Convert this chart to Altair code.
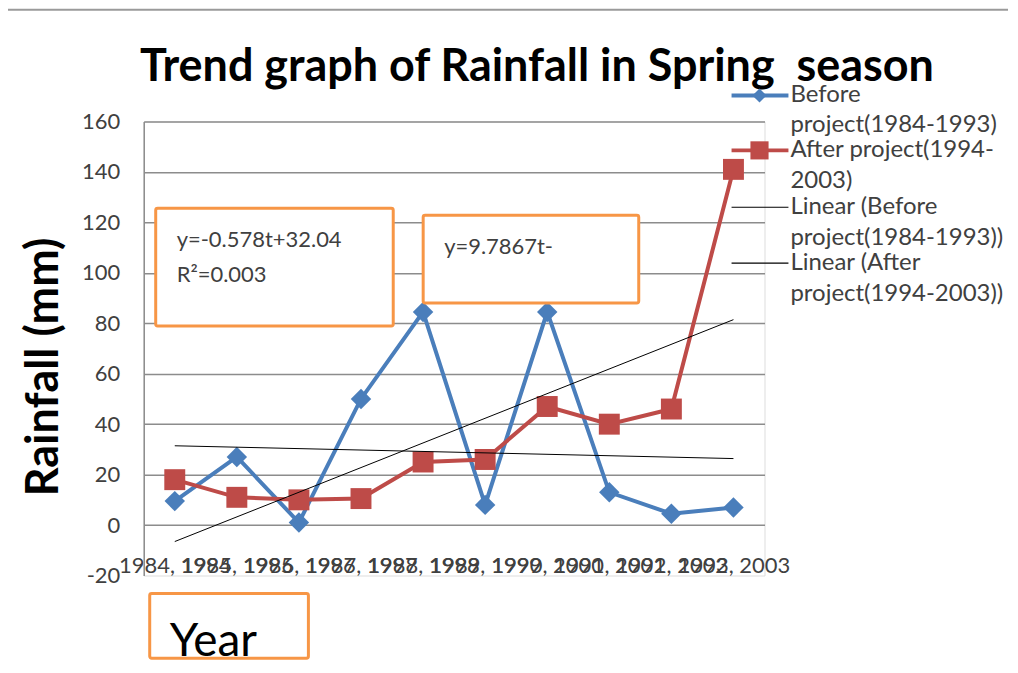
import altair as alt
import pandas as pd

# ---- data ----
years_before = [1984, 1985, 1986, 1987, 1988, 1989, 1990, 1991, 1992, 1993]
years_after = [1994, 1995, 1996, 1997, 1998, 1999, 2000, 2001, 2002, 2003]
period_index = [1, 2, 3, 4, 5, 6, 7, 8, 9, 10]
rain_before = [9.5, 27, 1, 50, 84.5, 8, 84.5, 13, 4.5, 7]
rain_after = [18, 11, 10, 10.5, 25, 26, 47, 40, 46, 141]
series_names = ["Before project(1984-1993)", "After project(1994-2003)"]
y_ticks = [-20, 0, 20, 40, 60, 80, 100, 120, 140, 160]

x_labels = [f"{a}, {b}" for a, b in zip(years_before, years_after)]

df = pd.DataFrame({
    "t": period_index * 2,
    "series": [series_names[0]] * 10 + [series_names[1]] * 10,
    "rainfall": rain_before + rain_after,
})

BLUE = "#4A7EBB"
RED = "#BE4B48"
ORANGE = "#F79646"
GRID = "#8C8C8C"
TXT = "#404040"
FONT = "Lato"

label_js = "[" + ",".join(f"'{s}'" for s in x_labels) + "]"

x_enc = alt.X(
    "t:Q",
    scale=alt.Scale(domain=[0.5, 10.5], nice=False, zero=False),
    axis=alt.Axis(
        values=period_index, title=None, grid=False, domain=False, ticks=False,
        tickSize=0, labelExpr=f"{label_js}[datum.value - 1]", labelOverlap=False,
        labelFontSize=22, labelColor=TXT, labelFont=FONT, labelBaseline="alphabetic",
        labelPadding=-3, labelFlush=False,
    ),
)
y_enc = alt.Y(
    "rainfall:Q",
    scale=alt.Scale(domain=[-20, 160], nice=False, zero=False),
    axis=alt.Axis(
        values=y_ticks, title=None, grid=True, gridColor=GRID, gridWidth=1.5,
        gridOpacity={"condition": {"test": "datum.value === -20", "value": 0}, "value": 1},
        domain=True, domainColor=GRID, domainWidth=1.5, ticks=False, tickSize=0,
        labelFontSize=22, labelColor=TXT, labelFont=FONT, labelPadding=24,
        labelBaseline="middle", labelExpr="datum.value + ''",
    ),
)

base = alt.Chart(df).encode(x=x_enc, y=y_enc)

blue_line = base.transform_filter(alt.datum.series == series_names[0]).mark_line(
    color=BLUE, strokeWidth=4)
blue_pts = base.transform_filter(alt.datum.series == series_names[0]).mark_point(
    shape="diamond", filled=True, opacity=1, size=420, color=BLUE)
red_line = base.transform_filter(alt.datum.series == series_names[1]).mark_line(
    color=RED, strokeWidth=4)
red_pts = base.transform_filter(alt.datum.series == series_names[1]).mark_point(
    shape="square", filled=True, opacity=1, size=440, color=RED)

# linear trend lines (least squares of rainfall on period index)
trends = base.transform_regression(
    "t", "rainfall", groupby=["series"], extent=[1, 10]
).mark_line(color="black", strokeWidth=1).encode(detail="series:N")

one = alt.Chart(pd.DataFrame({"k": [0]}))


def text(s, x, y, size, weight="normal", color=TXT, angle=None, align="left", baseline="middle"):
    kw = dict(fontSize=size, fontWeight=weight, color=color, font=FONT, align=align, baseline=baseline)
    if angle is not None:
        kw["angle"] = angle
    return one.mark_text(**kw).encode(x=alt.value(x), y=alt.value(y), text=alt.value(s))


def box(x1, x2, y1, y2):
    return one.mark_rect(fill="white", stroke=ORANGE, strokeWidth=3, cornerRadius=2).encode(
        x=alt.value(x1), x2=alt.value(x2), y=alt.value(y1), y2=alt.value(y2))


def hline(x1, x2, y, color, w):
    return one.mark_rule(color=color, strokeWidth=w).encode(
        x=alt.value(x1), x2=alt.value(x2), y=alt.value(y))


LEG = 24

layers = [
    blue_line, blue_pts, red_line, red_pts, trends,
    # page frame
    one.mark_rule(color="#9A9A9A", strokeWidth=2).encode(
        x=alt.value(-136), x2=alt.value(866), y=alt.value(-112)),
    one.mark_rule(color="#9A9A9A", strokeWidth=2).encode(
        x=alt.value(-137), y=alt.value(-112), y2=alt.value(560)),
    # title and axis titles
    text("Trend graph of Rainfall in Spring\u00a0 season", 394, -41, 45, "bold", "black",
         align="center", baseline="alphabetic"),
    text("Rainfall (mm)", -100, 246, 45, "bold", "black", angle=270, align="center"),
    box(6, 165, 473, 538),
    text("Year", 26, 536, 46, "normal", "black", baseline="alphabetic"),
    # equation boxes
    box(12, 250, 87, 205),
    text("y=-0.578t+32.04", 33, 119, 22),
    text("R²=0.003", 33, 154, 22),
    box(280, 496, 94, 182),
    text("y=9.7867t-", 301, 126, 22),
    # legend
    hline(589, 646, -26, BLUE, 4),
    one.mark_point(shape="diamond", filled=True, opacity=1, size=200, color=BLUE).encode(
        x=alt.value(617), y=alt.value(-26)),
    text("Before", 648, -26, LEG),
    text("project(1984-1993)", 648, 4, LEG),
    hline(589, 646, 29, RED, 4),
    one.mark_point(shape="square", filled=True, opacity=1, size=330, color=RED).encode(
        x=alt.value(617), y=alt.value(29)),
    text("After project(1994-", 648, 29, LEG),
    text("2003)", 648, 60, LEG),
    hline(589, 646, 86, "black", 1.2),
    text("Linear (Before", 648, 86, LEG),
    text("project(1984-1993))", 648, 117, LEG),
    hline(589, 646, 142, "black", 1.2),
    text("Linear (After", 648, 142, LEG),
    text("project(1994-2003))", 648, 173, LEG),
]

chart = alt.layer(*layers).properties(
    width=622, height=455,
    autosize=alt.AutoSizeParams(type="none"),
    padding={"left": 136, "top": 113, "right": 246, "bottom": 95},
    background="white",
).configure_view(stroke=None).configure(font=FONT)

chart.save("out.html", embed_options={"renderer": "svg", "actions": False})
